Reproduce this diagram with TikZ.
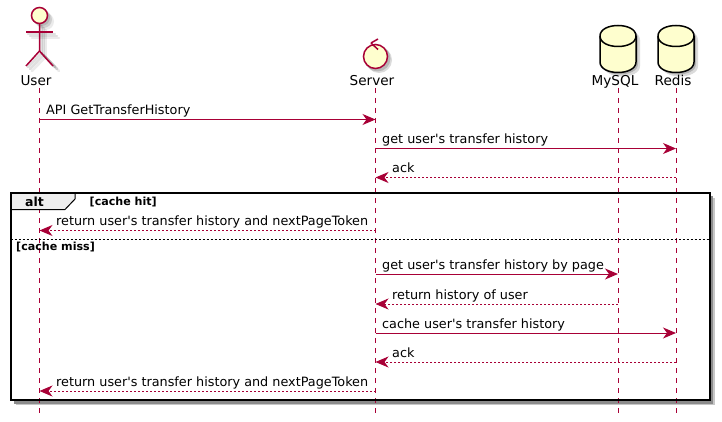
\documentclass[tikz,border=0pt]{standalone}
\usepackage{fontspec}
\usepackage{xcolor}
\setmainfont{DejaVu Sans}
\usetikzlibrary{positioning,calc,arrows.meta,shapes.geometric}

\definecolor{seqline}{HTML}{A80036}
\definecolor{seqfill}{HTML}{FEFECE}
\definecolor{tabfill}{HTML}{EEEEEE}

\tikzset{
    lifeline/.style={seqline, line width=1pt, dash pattern=on 5pt off 5pt},
    callmsg/.style={seqline, line width=1pt, -{Stealth[length=13pt,width=11pt,inset=4pt]}},
    backmsg/.style={callmsg, dash pattern=on 2pt off 2pt},
    msgtext/.style={anchor=base west, inner sep=0pt, font=\fontsize{12.8}{15}\selectfont},
    headtext/.style={anchor=base, inner sep=0pt, font=\fontsize{13.6}{16}\selectfont},
    guardtext/.style={anchor=base west, inner sep=0pt, font=\fontsize{11.1}{13}\selectfont\bfseries},
    softshadow/.style={black, line cap=round, line join=round},
    dbbody/.style={draw=black, fill=seqfill, line width=1.5pt}
}

\begin{document}
\begin{tikzpicture}[x=1pt, y=-1pt]
    \useasboundingbox (0,0) rectangle (722,422);

    % alt frame shadow
    \coordinate (frametl) at (10.5,192.5);
    \coordinate (framebr) at (709.5,400);
    \fill[black!22] ($(frametl)+(5,5)$) rectangle ($(framebr)+(5,5)$);
    \fill[black!45] ($(frametl)+(3,3)$) rectangle ($(framebr)+(3.5,3.5)$);
    \fill[white] (frametl) rectangle (framebr);

    % lifelines
    \coordinate (user) at (39.5,88);
    \coordinate (server) at (375.5,88);
    \coordinate (mysql) at (618,88);
    \coordinate (redis) at (676,88);
    \coordinate (bottom) at (0,415);
    \draw[lifeline] (user) -- (user |- bottom);
    \draw[lifeline] (server) -- (server |- bottom);
    \draw[lifeline] (mysql) -- (mysql |- bottom);
    \draw[lifeline] (redis) -- (redis |- bottom);

    % User
    \foreach \off/\alp in {2/0.12,4/0.12,6/0.08}{
        \draw[softshadow, line width=2.5pt, opacity=\alp] (39.5+\off,24+\off) -- (39.5+\off,51+\off) -- (26+\off,65+\off);
        \draw[softshadow, line width=2.5pt, opacity=\alp] (39.5+\off,51+\off) -- (53+\off,65+\off);
        \draw[softshadow, line width=2.5pt, opacity=\alp] (26+\off,32+\off) -- (53+\off,32+\off);
        \fill[softshadow, opacity=\alp] (39.5+\off,15.5+\off) circle (8.5);
    }
    \draw[seqline, line width=1.5pt, fill=seqfill] (39.5,15.5) circle (8);
    \draw[seqline, line width=1.5pt] (39.5,24) -- (39.5,51) -- (26,66);
    \draw[seqline, line width=1.5pt] (39.5,51) -- (53,66);
    \draw[seqline, line width=1.5pt] (26,32) -- (53,32);
    \node[headtext] (usertext) at (36,86) {User};

    % Server
    \foreach \off/\alp in {2/0.16,3.5/0.14}{
        \fill[softshadow, opacity=\alp] (375.5+\off,56.5+\off) circle (13);
    }
    \draw[seqline, line width=1.5pt, fill=seqfill] (375.5,56.5) circle (12);
    \draw[seqline, line width=1.5pt] (371,43) -- (378,39);
    \draw[seqline, line width=1.5pt] (371,43) -- (378,49.5);
    \node[headtext] (servertext) at (372,86) {Server};

    % MySQL, Redis
    \foreach \cx/\name/\lbl in {618/mysqltext/MySQL,676/redistext/Redis}{
        \foreach \off/\alp in {2/0.18,4/0.14}{
            \fill[softshadow, opacity=\alp] (\cx-18+\off,36+\off) .. controls (\cx-18+\off,22+\off) and (\cx+18+\off,22+\off) .. (\cx+18+\off,36+\off)
                -- (\cx+18+\off,62+\off) .. controls (\cx+18+\off,76+\off) and (\cx-18+\off,76+\off) .. (\cx-18+\off,62+\off) -- cycle;
        }
        \draw[dbbody] (\cx-18,36) .. controls (\cx-18,22) and (\cx+18,22) .. (\cx+18,36)
            -- (\cx+18,62) .. controls (\cx+18,76) and (\cx-18,76) .. (\cx-18,62) -- cycle;
        \draw[black, line width=1.5pt] (\cx-18,36) .. controls (\cx-18,50) and (\cx+18,50) .. (\cx+18,36);
        \node[headtext] (\name) at (\cx-3,86) {\lbl};
    }

    % alt frame
    \draw[black, line width=1pt, fill=tabfill] (frametl) -- (75,192.5) -- (75,199) -- (65,209.5) -- (10.5,209.5) -- cycle;
    \draw[black, line width=2pt] (frametl) rectangle (framebr);
    \draw[black, line width=1pt, dash pattern=on 2pt off 2pt] (frametl |- 0,239) -- (framebr |- 0,239);
    \node[anchor=base, inner sep=0pt, font=\fontsize{12.5}{15}\selectfont\bfseries] (alttext) at (34.5,206) {alt};
    \node[guardtext] (hittext) at (89.5,205) {[cache hit]};
    \node[guardtext] (misstext) at (16,250) {[cache miss]};

    % messages
    \coordinate (r1) at (0,119.5);
    \coordinate (r2) at (0,148.5);
    \coordinate (r3) at (0,177.5);
    \coordinate (r4) at (0,230.5);
    \coordinate (r5) at (0,274);
    \coordinate (r6) at (0,304);
    \coordinate (r7) at (0,333);
    \coordinate (r8) at (0,362);
    \coordinate (r9) at (0,391);

    \draw[callmsg] (user |- r1) -- (server |- r1);
    \node[msgtext] (t1) at ($(user |- r1)+(6.5,-5)$) {API GetTransferHistory};

    \draw[callmsg] (server |- r2) -- (redis |- r2);
    \node[msgtext] (t2) at ($(server |- r2)+(6.5,-5)$) {get user\textquotesingle s transfer history};

    \draw[backmsg] (redis |- r3) -- (server |- r3);
    \node[msgtext] (t3) at ($(server |- r3)+(16.5,-5)$) {ack};

    \draw[backmsg] (server |- r4) -- (user |- r4);
    \node[msgtext] (t4) at ($(user |- r4)+(16.5,-5)$) {return user\textquotesingle s transfer history and nextPageToken};

    \draw[callmsg] (server |- r5) -- (mysql |- r5);
    \node[msgtext] (t5) at ($(server |- r5)+(6.5,-5)$) {get user\textquotesingle s transfer history by page};

    \draw[backmsg] (mysql |- r6) -- (server |- r6);
    \node[msgtext] (t6) at ($(server |- r6)+(16.5,-5)$) {return history of user};

    \draw[callmsg] (server |- r7) -- (redis |- r7);
    \node[msgtext] (t7) at ($(server |- r7)+(6.5,-5)$) {cache user\textquotesingle s transfer history};

    \draw[backmsg] (redis |- r8) -- (server |- r8);
    \node[msgtext] (t8) at ($(server |- r8)+(16.5,-5)$) {ack};

    \draw[backmsg] (server |- r9) -- (user |- r9);
    \node[msgtext] (t9) at ($(user |- r9)+(16.5,-5)$) {return user\textquotesingle s transfer history and nextPageToken};
\end{tikzpicture}
\end{document}
